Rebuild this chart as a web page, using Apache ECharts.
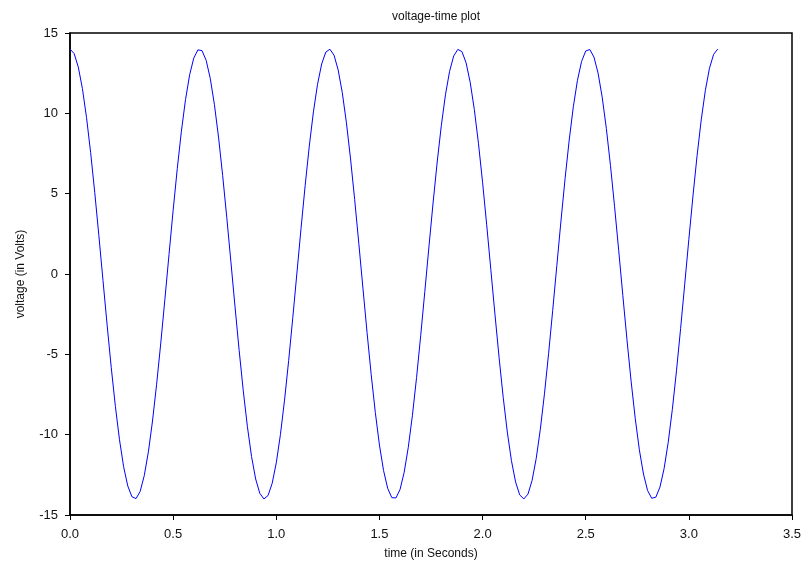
<!DOCTYPE html>
<html>
<head>
<meta charset="utf-8">
<script src="https://cdn.jsdelivr.net/npm/echarts@6/dist/echarts.min.js"></script>
<style>
html,body{margin:0;padding:0;background:#fff;}
#chart{width:806px;height:569px;}
</style>
</head>
<body>
<div id="chart"></div>
<script>
const titleText = "voltage-time plot";
const xName = "time (in Seconds)";
const yName = "voltage (in Volts)";

const times = [
0.00,0.02,0.04,0.06,0.08,0.10,0.12,0.14,0.16,0.18,
0.20,0.22,0.24,0.26,0.28,0.30,0.32,0.34,0.36,0.38,
0.40,0.42,0.44,0.46,0.48,0.50,0.52,0.54,0.56,0.58,
0.60,0.62,0.64,0.66,0.68,0.70,0.72,0.74,0.76,0.78,
0.80,0.82,0.84,0.86,0.88,0.90,0.92,0.94,0.96,0.98,
1.00,1.02,1.04,1.06,1.08,1.10,1.12,1.14,1.16,1.18,
1.20,1.22,1.24,1.26,1.28,1.30,1.32,1.34,1.36,1.38,
1.40,1.42,1.44,1.46,1.48,1.50,1.52,1.54,1.56,1.58,
1.60,1.62,1.64,1.66,1.68,1.70,1.72,1.74,1.76,1.78,
1.80,1.82,1.84,1.86,1.88,1.90,1.92,1.94,1.96,1.98,
2.00,2.02,2.04,2.06,2.08,2.10,2.12,2.14,2.16,2.18,
2.20,2.22,2.24,2.26,2.28,2.30,2.32,2.34,2.36,2.38,
2.40,2.42,2.44,2.46,2.48,2.50,2.52,2.54,2.56,2.58,
2.60,2.62,2.64,2.66,2.68,2.70,2.72,2.74,2.76,2.78,
2.80,2.82,2.84,2.86,2.88,2.90,2.92,2.94,2.96,2.98,
3.00,3.02,3.04,3.06,3.08,3.10,3.12,3.14
];

const voltages = [
14.00,13.72,12.89,11.55,9.75,7.56,5.07,2.38,-0.41,-3.18,
-5.83,-8.24,-10.32,-12.00,-13.19,-13.86,-13.98,-13.54,-12.55,-11.07,
-9.15,-6.86,-4.30,-1.57,1.22,3.97,6.56,8.89,10.86,12.40,
13.44,13.95,
13.90,13.30,12.17,10.55,8.52,6.14,3.52,0.76,-2.04,-4.75,
-7.27,-9.50,-11.36,-12.76,-13.65,-14.00,-13.79,-13.03,-11.75,-10.00,
-7.85,-5.39,-2.72,0.06,2.84,5.51,7.96,10.09,11.81,13.07,
13.81,
13.99,13.62,12.70,11.28,9.41,7.16,4.63,1.91,-0.88,-3.64,
-6.25,-8.61,-10.64,-12.23,-13.34,-13.92,-13.94,-13.41,-12.34,-10.78,
-8.79,-6.45,-3.85,-1.10,1.69,4.42,6.97,9.24,11.15,12.61,
13.57,13.98,
13.84,13.15,11.93,10.24,8.14,5.71,3.06,0.28,-2.50,-5.19,
-7.67,-9.84,-11.62,-12.94,-13.75,-14.00,-13.70,-12.85,-11.48,-9.66,
-7.46,-4.96,-2.26,0.53,3.30,5.94,8.34,10.41,12.06,13.23,
13.88,
13.97,13.50,12.50,11.00,9.06,6.76,4.18,1.45,-1.35,-4.09,
-6.67,-8.98,-10.94,-12.45,-13.48,-13.96,-13.89,-13.26,-12.11,-10.47,
-8.42,-6.03,-3.40,-0.63,2.16,4.86,7.38,9.59,11.43,12.81,
13.67,14.00
];

const xMin = 0, xMax = 3.5, xStep = 0.5;
const yMin = -15, yMax = 15, yStep = 5;

const chart = echarts.init(document.getElementById('chart'), null, {renderer: 'canvas'});
const font = 'Liberation Sans, Arial, sans-serif';
chart.setOption({
  animation: false,
  backgroundColor: '#ffffff',
  title: {
    text: titleText,
    left: 431, top: 6, textAlign: 'center',
    textStyle: {fontSize: 12, fontWeight: 'normal', color: '#111', fontFamily: font}
  },
  grid: {left: 70, right: 14, top: 33, bottom: 54, show: true, borderColor: '#000', borderWidth: 1.5, containLabel: false},
  xAxis: {
    type: 'value', min: xMin, max: xMax, interval: xStep,
    name: xName, nameLocation: 'middle', nameGap: 33,
    nameTextStyle: {fontSize: 12, color: '#111', fontFamily: font},
    axisLine: {show: true, onZero: false, lineStyle: {color: '#000', width: 1.5}},
    axisTick: {show: true, inside: false, length: 5, lineStyle: {color: '#000'}},
    axisLabel: {fontSize: 13, color: '#111', fontFamily: font, margin: 13, formatter: v => v.toFixed(1)},
    splitLine: {show: false}
  },
  yAxis: {
    type: 'value', min: yMin, max: yMax, interval: yStep,
    name: yName, nameLocation: 'middle', nameGap: 43, nameRotate: 90,
    nameTextStyle: {fontSize: 12, color: '#111', fontFamily: font},
    axisLine: {show: true, onZero: false, lineStyle: {color: '#000', width: 1.5}},
    axisTick: {show: true, inside: false, length: 5, lineStyle: {color: '#000'}},
    axisLabel: {fontSize: 13, color: '#111', fontFamily: font, margin: 12},
    splitLine: {show: false}
  },
  series: [{
    type: 'line',
    data: times.map((t, i) => [t, voltages[i]]),
    showSymbol: false,
    symbol: 'none',
    lineStyle: {color: '#0000ff', width: 1},
    itemStyle: {color: '#0000ff'}
  }]
});
</script>
</body>
</html>
